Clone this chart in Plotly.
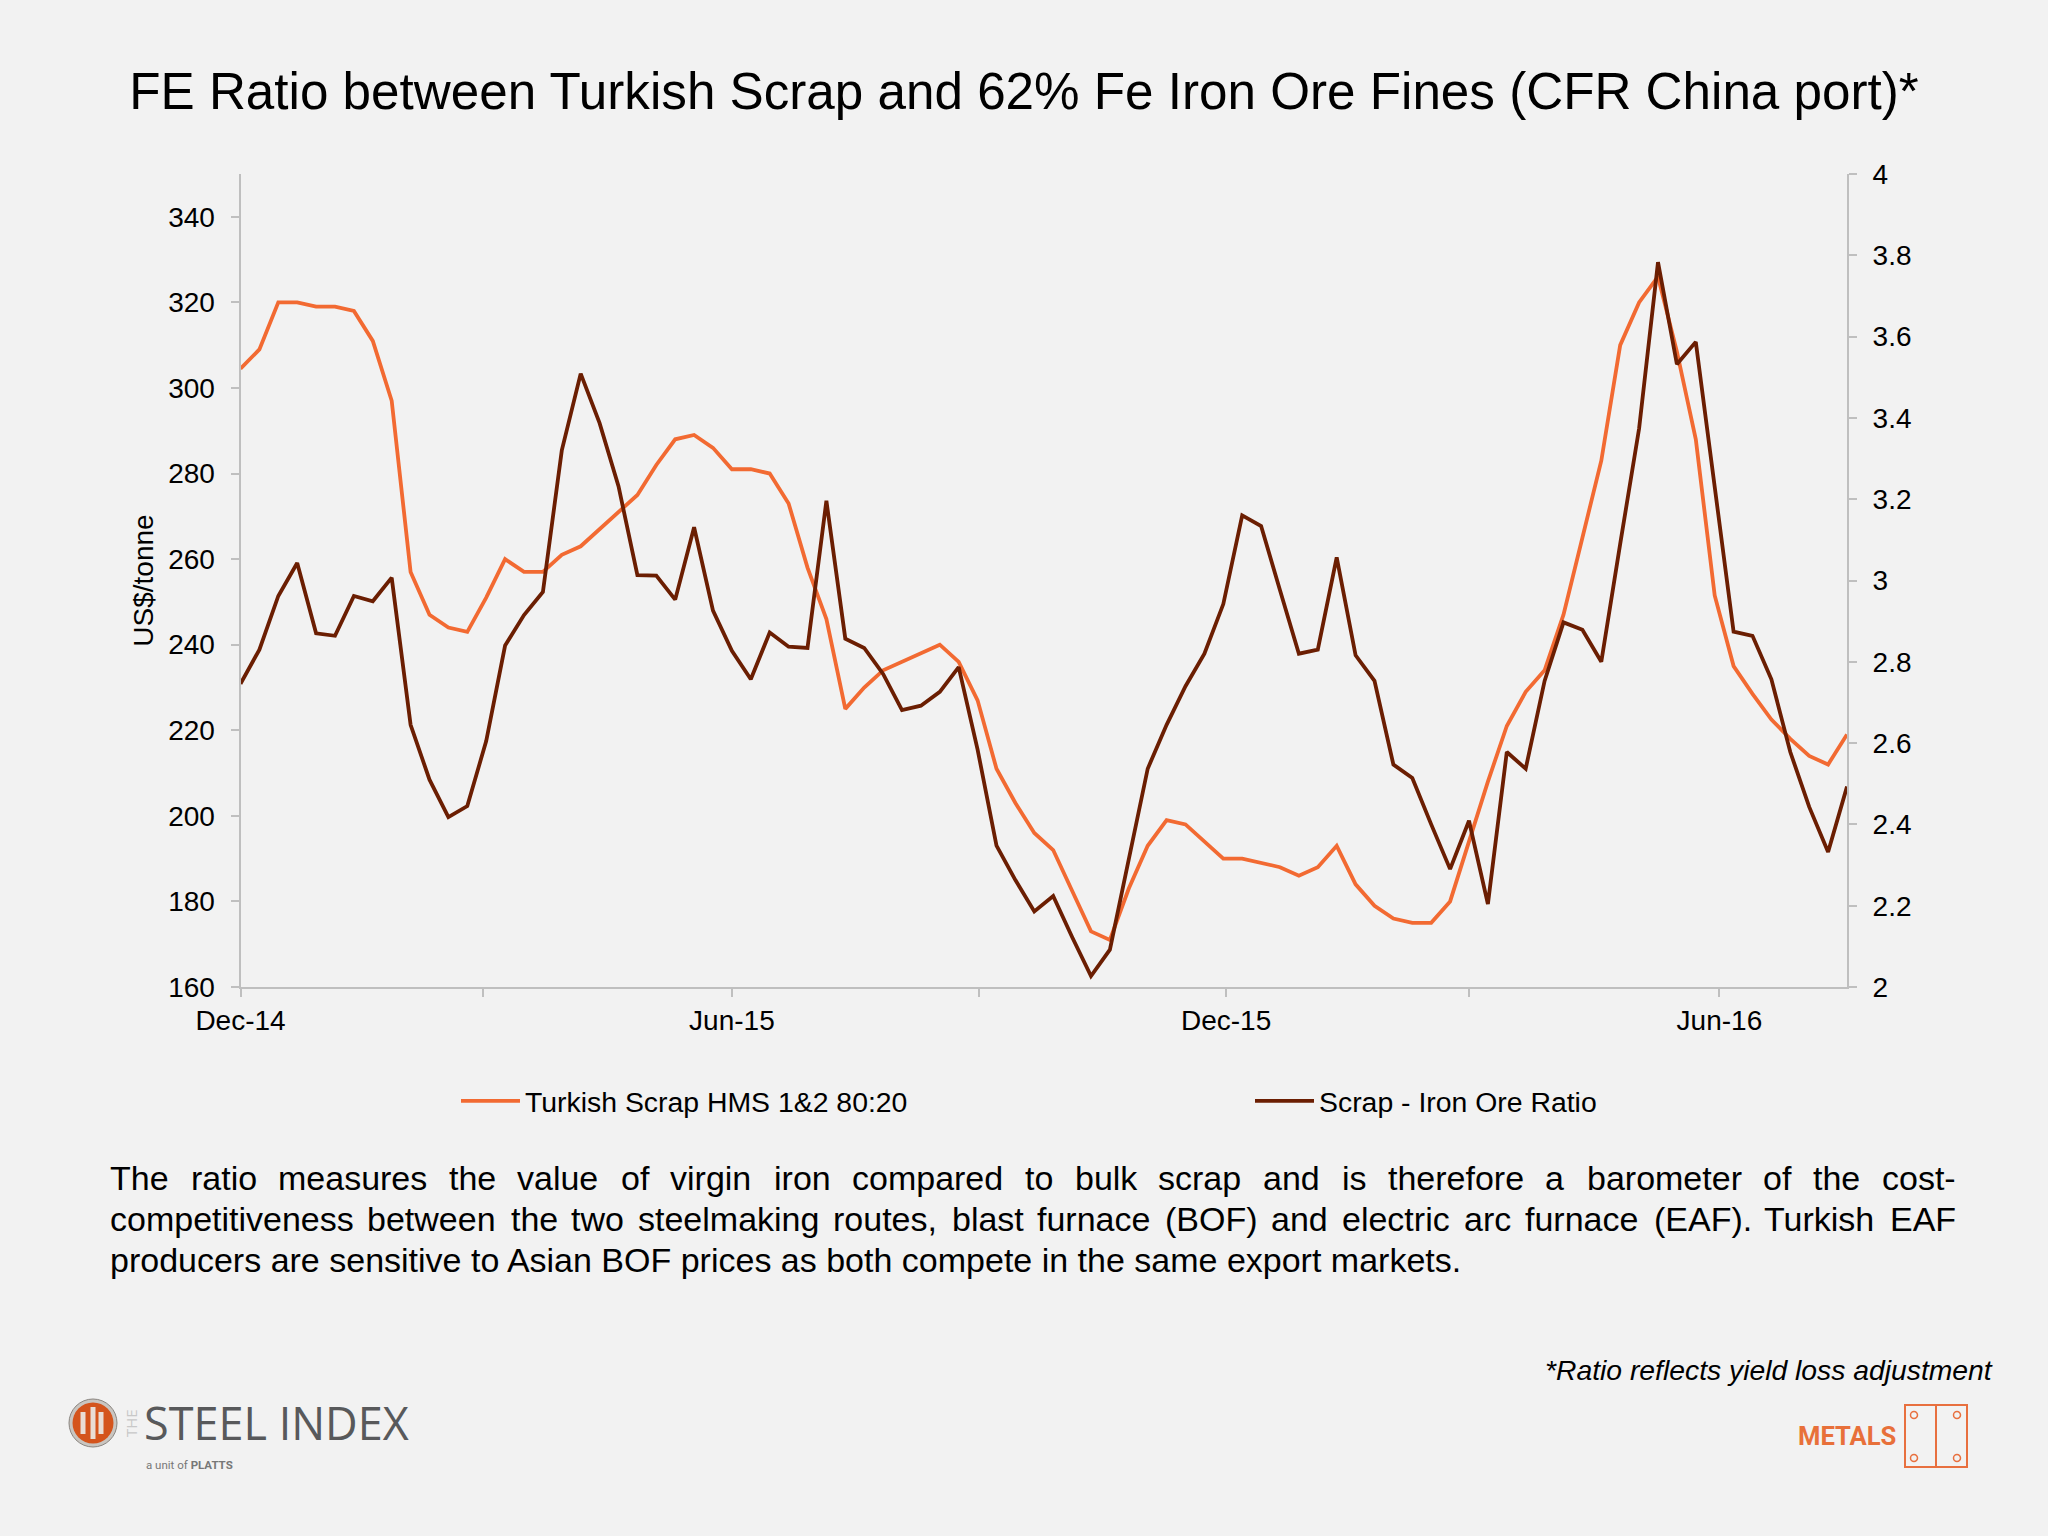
import plotly.graph_objects as go

W, H = 2048, 1536
FONT = "Liberation Sans"

scrap = [304.5,309,320,320,319,319,318,311,297,257,247,244,243,251,260,257,257,261,263,267,271,275,282,288,289,286,281,281,280,273,258,246,225,230,234,236,238,240,236,227,211,
         203,196,192,182.5,173,171,183,193,199,198,194,190,190,189,188,186,188,193,184,179,176,175,175,180,194,208,221,229,234,247,265,283,310,320,326,308.5,288,251.5,235,228.5,222.5,218,214,212,219]
ratio = [2.746,2.83,2.962,3.043,2.87,2.864,2.962,2.949,3.007,2.645,2.51,2.418,2.445,2.605,2.84,2.915,2.972,3.32,3.509,3.387,3.232,3.013,3.012,2.953,3.131,2.926,2.827,2.757,2.872,2.837,2.834,3.196,2.857,2.834,2.77,2.681,2.692,2.726,2.787,2.584,2.348,
         2.263,2.186,2.224,2.123,2.027,2.092,2.32,2.537,2.645,2.74,2.82,2.942,3.16,3.134,2.976,2.82,2.83,3.057,2.816,2.753,2.547,2.514,2.40,2.29,2.409,2.204,2.578,2.537,2.753,2.897,2.879,2.80,3.09,3.374,3.783,3.532,3.587,3.225,2.874,2.864,2.757,2.578,2.443,2.332,2.493]
weeks = list(range(len(scrap)))
x_tick_weeks = [0, 12.85, 26, 39.1, 52.15, 65, 78.25]
x_tick_labels = ["Dec-14", "", "Jun-15", "", "Dec-15", "", "Jun-16"]
left_ticks = [160, 180, 200, 220, 240, 260, 280, 300, 320, 340]
right_ticks = [2, 2.2, 2.4, 2.6, 2.8, 3, 3.2, 3.4, 3.6, 3.8, 4]
right_labels = ["2", "2.2", "2.4", "2.6", "2.8", "3", "3.2", "3.4", "3.6", "3.8", "4"]

TITLE = "FE Ratio between Turkish Scrap and 62% Fe Iron Ore Fines (CFR China port)*"
LINE1 = ["The","ratio","measures","the","value","of","virgin","iron","compared","to","bulk","scrap","and","is","therefore","a","barometer","of","the","cost-"]
LINE1_X = [109,190,277,448,516,620,669,773,851,1024,1074,1157,1262,1341,1387,1544,1586,1762,1812,1881]
LINE2 = ["competitiveness","between","the","two","steelmaking","routes,","blast","furnace","(BOF)","and","electric","arc","furnace","(EAF).","Turkish","EAF"]
LINE2_X = [109,366,510,570,637,832,951,1036,1164,1270,1341,1463,1524,1653,1763,1889]
LINE3 = "producers are sensitive to Asian BOF prices as both compete in the same export markets."

ORANGE, DARK, GREY = "#F26A32", "#6B1E02", "#BFBFBF"
px = lambda x: x / W
py = lambda y: 1 - y / H

fig = go.Figure()
fig.add_trace(go.Scatter(x=weeks, y=scrap, name="Turkish Scrap HMS 1&2 80:20", mode="lines",
                         line=dict(color=ORANGE, width=3.8), yaxis="y"))
fig.add_trace(go.Scatter(x=weeks, y=ratio, name="Scrap - Iron Ore Ratio", mode="lines",
                         line=dict(color=DARK, width=3.8), yaxis="y2"))

def note(text, x, y, size, xanchor="left", color="#000000", **kw):
    return dict(text=text, x=px(x), y=py(y), xref="paper", yref="paper", xanchor=xanchor, yanchor="middle",
                showarrow=False, font=dict(family=kw.pop("family", FONT), size=size, color=color),
                borderpad=0, **kw)

BODY = 34
anns = []
for w, x in zip(LINE1, LINE1_X):
    anns.append(note(w, x, 1178, BODY))
for w, x in zip(LINE2, LINE2_X):
    anns.append(note(w, x, 1219, BODY))
anns.append(note(LINE3, 109, 1260, BODY))
anns.append(note("<i>*Ratio reflects yield loss adjustment</i>", 1994, 1370, 28.3, xanchor="right"))
anns.append(note("<b>METALS</b>", 1797, 1436, 25.6, color="#E8703A", family="Roboto"))
anns.append(note("STEEL INDEX", 142.5, 1422, 45, color="#58595B", family="Open Sans"))
anns.append(note("THE", 131, 1423, 15, xanchor="center", color="#C8C8C8", family="Open Sans", textangle=-90))
anns.append(note("a unit of <b>PLATTS</b>", 145, 1465, 11.5, color="#777777", family="Roboto"))

shapes = []
def rect(x0, y0, x1, y1, **kw):
    shapes.append(dict(type="rect", xref="paper", yref="paper", x0=px(x0), x1=px(x1), y0=py(y0), y1=py(y1), **kw))
def circ(cx, cy, r, **kw):
    shapes.append(dict(type="circle", xref="paper", yref="paper", x0=px(cx-r), x1=px(cx+r), y0=py(cy-r), y1=py(cy+r), **kw))

LOGO = "#E8703F"
rect(1905, 1405, 1967, 1467, line=dict(color=LOGO, width=2))
rect(1936, 1405, 1936, 1467, line=dict(color=LOGO, width=2))
for cx in (1914, 1957):
    for cy in (1415, 1458):
        circ(cx, cy, 3.5, line=dict(color=LOGO, width=1.5))
circ(93, 1423, 24, fillcolor="#C9C5C0", line=dict(color="#8A8580", width=1))
circ(93, 1423, 20.5, fillcolor="#D4541C", line=dict(width=0))
for cx, hh in ((83, 11), (93, 16), (101, 11)):
    rect(cx-2.5, 1423-hh, cx+2.5, 1423+hh, fillcolor="#E9DDD5", line=dict(width=0))

axis_common = dict(showgrid=False, zeroline=False, showline=True, linecolor=GREY, linewidth=2,
                   ticks="outside", tickcolor=GREY, tickwidth=2, ticklen=8, automargin=False,
                   tickfont=dict(family=FONT, size=28, color="#000000"))

fig.update_layout(
    width=W, height=H, autosize=False,
    margin=dict(l=0, r=0, t=0, b=0, autoexpand=False),
    paper_bgcolor="#F2F2F2", plot_bgcolor="#F2F2F2",
    title=dict(text=TITLE, x=0.5, xref="paper", xanchor="center", y=py(91), yref="paper", yanchor="middle",
               font=dict(family=FONT, size=51.2, color="#000000")),
    xaxis=dict(domain=[px(240.5), px(1847)], range=[0, 85], tickmode="array", ticklabelstandoff=-1,
               tickvals=x_tick_weeks, ticktext=x_tick_labels, **axis_common),
    yaxis=dict(domain=[py(987), py(174)], range=[160, 350], tickmode="array", tickvals=left_ticks,
               ticklabelstandoff=10,
               title=dict(text="US$/tonne", font=dict(family=FONT, size=28, color="#000000"), standoff=6),
               **axis_common),
    yaxis2=dict(overlaying="y", side="right", anchor="x", range=[2, 4], tickmode="array",
                tickvals=right_ticks, ticktext=right_labels, ticklabelstandoff=10, **axis_common),
    legend=dict(orientation="h", x=px(456), y=py(1101), xanchor="left", yanchor="middle",
                entrywidth=720, entrywidthmode="pixels", itemwidth=59, bgcolor="rgba(0,0,0,0)",
                font=dict(family=FONT, size=28.4, color="#000000")),
    annotations=anns, shapes=shapes,
)

fig.write_html("out.html", config=dict(displayModeBar=False),
               post_script="document.body.style.margin='0';document.body.style.background='#F2F2F2';")
